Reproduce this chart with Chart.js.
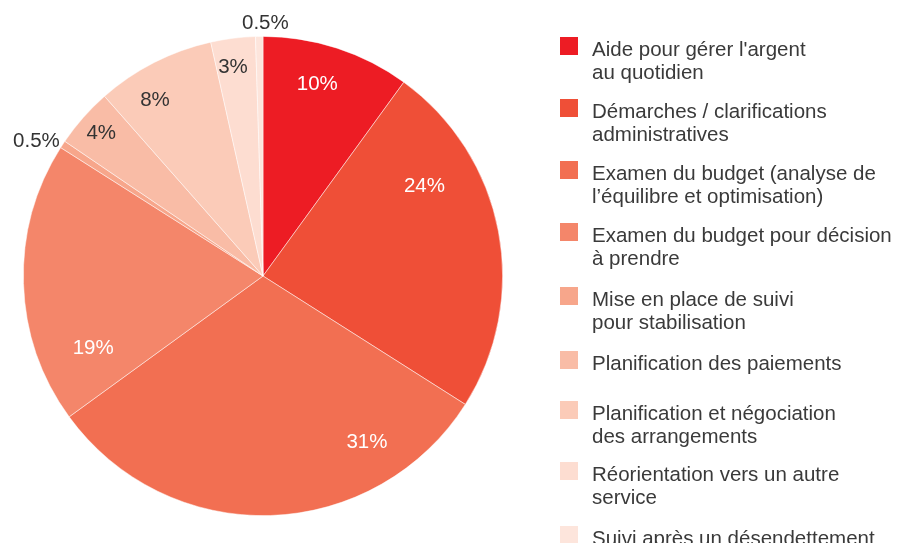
<!DOCTYPE html>
<html>
<head>
<meta charset="utf-8">
<script src="https://cdn.jsdelivr.net/npm/chart.js@4"></script>
<style>
  html, body { margin: 0; padding: 0; background: #fff; width: 897px; height: 543px; overflow: hidden; }
  #wrap { position: absolute; left: 0; top: 0; width: 526px; height: 543px; }
  #legend { position: absolute; left: 0; top: 0; width: 897px; height: 543px; pointer-events: none;
    font-family: "Liberation Sans", Arial, sans-serif; font-size: 20.5px; line-height: 23px; color: #3a3a3a; }
  .item { position: absolute; left: 560px; }
  .sw { position: absolute; left: 0; top: 0; width: 18px; height: 18px; }
  .txt { position: absolute; left: 32px; top: 0; white-space: nowrap; }
</style>
</head>
<body>
<div id="wrap"><canvas id="pie"></canvas></div>
<div id="legend"></div>
<script>
const categories = [
  ["Aide pour gérer l'argent", "au quotidien"],
  ["Démarches / clarifications", "administratives"],
  ["Examen du budget (analyse de", "l’équilibre et optimisation)"],
  ["Examen du budget pour décision", "à prendre"],
  ["Mise en place de suivi", "pour stabilisation"],
  ["Planification des paiements"],
  ["Planification et négociation", "des arrangements"],
  ["Réorientation vers un autre", "service"],
  ["Suivi après un désendettement"]
];
const shares = [10, 24, 31, 19, 0.5, 4, 8, 3, 0.5];

const colors = ["#ED1C24", "#EF4F37", "#F26F52", "#F4866A", "#F7A68B", "#F9BCA6", "#FBCBB8", "#FDDDD1", "#FDE5DC"];
const labelColors = ["#fff", "#fff", "#fff", "#fff", "#333", "#333", "#333", "#333", "#333"];
// where each value label sits: fraction along the arc, and radius factor
const labelAt = [0.44, 0.29, 0.23, 0.19, -0.94, 0.5, 0.34, 0.41, 1.3];
const labelR = [0.83, 0.77, 0.82, 0.77, 1.1, 0.9, 0.86, 0.88, 1.054];
const legendTops = [37, 99, 161, 223, 287, 351, 401, 462, 526];

const valueLabels = {
  id: "valueLabels",
  afterDatasetsDraw(chart) {
    const ctx = chart.ctx;
    const arcs = chart.getDatasetMeta(0).data;
    ctx.save();
    ctx.font = '20.5px "Liberation Sans", Arial, sans-serif';
    ctx.textAlign = "center";
    ctx.textBaseline = "middle";
    arcs.forEach((arc, i) => {
      const a = arc.startAngle + labelAt[i] * (arc.endAngle - arc.startAngle);
      const r = arc.outerRadius * labelR[i];
      ctx.fillStyle = labelColors[i];
      ctx.fillText(String(shares[i]) + "%", arc.x + Math.cos(a) * r, arc.y + Math.sin(a) * r);
    });
    ctx.restore();
  }
};

new Chart(pie, {
  type: "pie",
  data: {
    labels: categories,
    datasets: [{ data: shares, backgroundColor: colors, borderColor: "rgba(255,255,255,0.6)", borderWidth: 0.8 }]
  },
  options: {
    responsive: true,
    maintainAspectRatio: false,
    animation: false,
    layout: { padding: { top: 36, bottom: 27, left: 23, right: 23 } },
    plugins: { legend: { display: false }, tooltip: { enabled: false } }
  },
  plugins: [valueLabels]
});

categories.forEach((lines, i) => {
  const item = document.createElement("div");
  item.className = "item";
  item.style.top = legendTops[i] + "px";
  item.innerHTML = '<div class="sw" style="background:' + colors[i] + '"></div><div class="txt">' + lines.join("<br>") + "</div>";
  legend.appendChild(item);
});
</script>
</body>
</html>
